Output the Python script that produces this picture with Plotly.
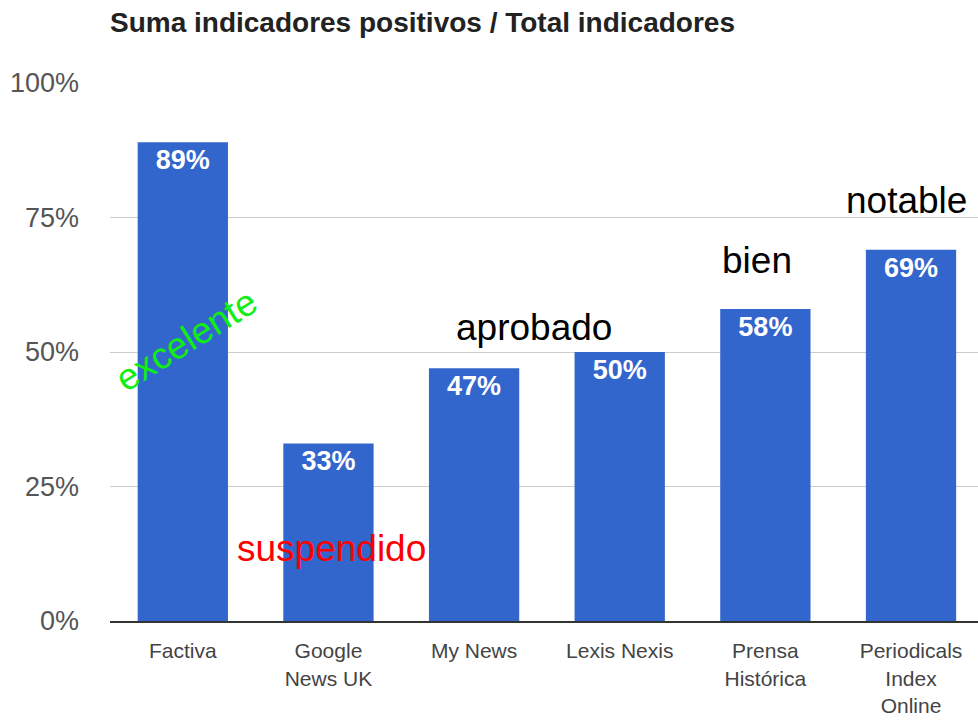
import plotly.graph_objects as go

categories = ["Factiva", "Google<br>News UK", "My News", "Lexis Nexis", "Prensa<br>Histórica", "Periodicals<br>Index<br>Online"]
values = [0.89, 0.33, 0.47, 0.50, 0.58, 0.69]
value_labels = ["89%", "33%", "47%", "50%", "58%", "69%"]
y_ticks = [0, 0.25, 0.5, 0.75, 1.0]
y_tick_labels = ["0%", "25%", "50%", "75%", "100%"]

note_texts = ["excelente", "suspendido", "aprobado", "bien", "notable"]
note_x = [0.02, 1.02, 2.41, 3.94, 4.97]
note_y = [0.522, 0.134, 0.546, 0.671, 0.781]
note_colors = ["#11ee11", "#ff0000", "#000000", "#000000", "#000000"]
note_angles = [-32, 0, 0, 0, 0]

FONT = "Liberation Sans, Arial, Helvetica, sans-serif"

fig = go.Figure()
fig.add_trace(go.Bar(
    x=list(range(len(categories))),
    y=values,
    text=value_labels,
    textposition="inside",
    insidetextanchor="end",
    textangle=0,
    textfont=dict(family=FONT, size=27, color="white", weight="bold"),
    marker=dict(color="#3366cc", line=dict(width=0)),
    hoverinfo="skip",
))

for t, x, y, c, a in zip(note_texts, note_x, note_y, note_colors, note_angles):
    fig.add_annotation(x=x, y=y, xref="x", yref="y", text=t, showarrow=False,
                       textangle=a, xanchor="center", yanchor="middle",
                       font=dict(family=FONT, size=37, color=c))

fig.update_layout(
    width=978, height=720,
    margin=dict(l=110, r=0, t=83, b=99, autoexpand=False),
    paper_bgcolor="white", plot_bgcolor="white",
    bargap=0.38,
    showlegend=False,
    title=dict(text="<b>Suma indicadores positivos / Total indicadores</b>",
               x=110/978, xref="container", xanchor="left",
               y=1-22/720, yref="container", yanchor="middle",
               font=dict(family=FONT, size=28, color="#222222")),
    xaxis=dict(
        range=[-0.5, 5.46], automargin=False,
        tickmode="array", tickvals=list(range(len(categories))), ticktext=categories,
        tickfont=dict(family=FONT, size=21, color="#444444"),
        showgrid=False, zeroline=False,
        showline=True, linecolor="#333333", linewidth=2,
        ticks="", ticklabelstandoff=10,
    ),
    yaxis=dict(
        range=[0, 1.0], automargin=False,
        tickmode="array", tickvals=y_ticks, ticktext=y_tick_labels,
        tickfont=dict(family=FONT, size=27, color="#555555"),
        showgrid=True, gridcolor="#cccccc", gridwidth=1,
        zeroline=False, showline=False, ticks="",
        ticklabelstandoff=30,
    ),
)

fig.write_html("out.html", config={"displayModeBar": False},
               post_script="document.body.style.margin='0';document.body.style.overflow='hidden';")
